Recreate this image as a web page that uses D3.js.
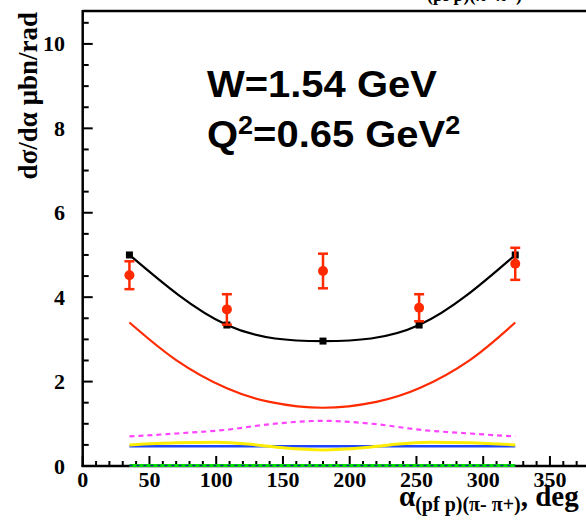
<!DOCTYPE html>
<html><head><meta charset="utf-8">
<script src="https://cdn.jsdelivr.net/npm/d3@7"></script>
<style>body{margin:0;background:#fff}svg{display:block}</style>
</head><body>
<script>
// ---- data ----
const xTicks = [0,50,100,150,200,250,300,350];
const yTicks = [0,2,4,6,8,10];
const dataAlpha = [35,108,180,252,324];
const dataValue = [4.52,3.71,4.62,3.75,4.79];
const dataError = [0.33,0.36,0.41,0.32,0.38];
const modelValue = [5.0,3.34,2.96,3.34,5.0];
const curveAlpha = [35,70,108,140,180,220,252,290,324];
const redValue = [3.40,2.51,1.84,1.52,1.38,1.52,1.84,2.51,3.40];
const magentaValue = [0.70,0.77,0.86,0.99,1.07,0.99,0.86,0.77,0.70];
const yellowAlpha = [35,70,100,130,150,180,210,230,260,290,324];
const yellowValue = [0.50,0.55,0.565,0.50,0.43,0.38,0.43,0.50,0.565,0.55,0.50];
const blueValue = [0.47,0.47,0.47,0.47,0.47,0.47,0.47,0.47,0.47];
const greenValue = [0.01,0.01,0.01,0.01,0.01,0.01,0.01,0.01,0.01];

const W = 586, H = 520;
const x0 = 82.7, pxPerDeg = 1.335;
const yBottom = 466, yTop = 11;
const x = d3.scaleLinear().domain([0,380]).range([x0, x0 + 380*pxPerDeg]);
const y = d3.scaleLinear().domain([0,10.78]).range([yBottom, yTop]);

const svg = d3.select("body").append("svg").attr("width",W).attr("height",H);
const serif = "'Liberation Serif','Times New Roman',serif";
const sans = "'Liberation Sans',Arial,Helvetica,sans-serif";

// frame
svg.append("line").attr("x1",x0).attr("x2",W).attr("y1",yTop).attr("y2",yTop).attr("stroke","#000").attr("stroke-width",2.5);
svg.append("line").attr("x1",x0).attr("x2",x0).attr("y1",yTop-1).attr("y2",yBottom+1).attr("stroke","#000").attr("stroke-width",2.5);
svg.append("line").attr("x1",x0-1).attr("x2",W).attr("y1",yBottom).attr("y2",yBottom).attr("stroke","#000").attr("stroke-width",2.5);

// ticks
const g = svg.append("g").attr("stroke","#000").attr("stroke-width",2);
d3.range(0,10.6,0.5).forEach(v=>{
  const major = Math.abs(v - Math.round(v/2)*2) < 1e-6;
  g.append("line").attr("x1",x0).attr("x2",x0 + (major?10:6)).attr("y1",y(v)).attr("y2",y(v));
});
d3.range(0,381,10).forEach(v=>{
  const major = v % 50 === 0;
  g.append("line").attr("x1",x(v)).attr("x2",x(v)).attr("y1",yBottom).attr("y2",yBottom-(major?10:5));
});

// tick labels
svg.append("g").selectAll("text").data(yTicks).join("text")
  .attr("x",65).attr("y",d=>y(d)+7.5).attr("text-anchor","end")
  .style("font-family",serif).style("font-weight","bold").style("font-size","22px").text(d=>d);
svg.append("g").selectAll("text").data(xTicks).join("text")
  .attr("x",d=>x(d)).attr("y",487).attr("text-anchor","middle")
  .style("font-family",serif).style("font-weight","bold").style("font-size","22px").text(d=>d);

// axis titles
svg.append("text").attr("transform","translate(37,12) rotate(-90)").attr("text-anchor","end")
  .style("font-family",serif).style("font-weight","bold").style("font-size","27px").text("dσ/dα μbn/rad");
const xt = svg.append("text").attr("x",399).attr("y",506)
  .style("font-family",serif).style("font-weight","bold").style("font-size","29px");
xt.append("tspan").text("α");
xt.append("tspan").attr("dy",5).style("font-size","20px").text("(pf p)(π- π+)");
xt.append("tspan").attr("dy",-5).text(", deg");

// cut-off title fragment at top
svg.append("text").attr("x",421).attr("y",1)
  .style("font-family",serif).style("font-weight","bold").style("font-size","18px").text("-(pf p)(π- π+)");

// annotation
const ann = svg.append("g").attr("transform","translate(207,0) scale(1.08,1)");
ann.append("text").attr("x",0).attr("y",97).style("font-family",sans).style("font-weight","bold").style("font-size","37px").text("W=1.54 GeV");
const q = ann.append("text").attr("x",0).attr("y",147).style("font-family",sans).style("font-weight","bold").style("font-size","37px");
q.append("tspan").text("Q");
q.append("tspan").attr("dy",-13).style("font-size","25px").text("2");
q.append("tspan").attr("dy",13).text("=0.65 GeV");
q.append("tspan").attr("dy",-13).style("font-size","25px").text("2");

// curves
const line = (xs, ys, curve) => d3.line().x((d,i)=>x(xs[i])).y(d=>y(d)).curve(curve)(ys);
svg.append("path").attr("d",line(curveAlpha,greenValue,d3.curveLinear)).attr("fill","none").attr("stroke","#00dd00").attr("stroke-width",3);
svg.append("path").attr("d",line(curveAlpha,greenValue,d3.curveLinear)).attr("fill","none").attr("stroke","#1a2a8a").attr("stroke-width",1.5).attr("stroke-dasharray","3,4");
svg.append("path").attr("d",line(curveAlpha,blueValue,d3.curveLinear)).attr("fill","none").attr("stroke","#1f45ff").attr("stroke-width",2.5);
svg.append("path").attr("d",line(yellowAlpha,yellowValue,d3.curveMonotoneX)).attr("fill","none").attr("stroke","#ffee00").attr("stroke-width",3);
svg.append("path").attr("d",line(curveAlpha,magentaValue,d3.curveMonotoneX)).attr("fill","none").attr("stroke","#ff44ff").attr("stroke-width",2.2).attr("stroke-dasharray","5,4");
svg.append("path").attr("d",line(curveAlpha,redValue,d3.curveNatural)).attr("fill","none").attr("stroke","#ff2a00").attr("stroke-width",2.2);
svg.append("path").attr("d",line(dataAlpha,modelValue,d3.curveNatural)).attr("fill","none").attr("stroke","#000").attr("stroke-width",2.2);

// model squares
svg.append("g").selectAll("rect").data(modelValue).join("rect")
  .attr("x",(d,i)=>x(dataAlpha[i])-3.5).attr("y",d=>y(d)-3.5).attr("width",7).attr("height",7).attr("fill","#000");

// data points
const dp = svg.append("g").attr("stroke","#ff2a00").attr("stroke-width",2.5);
dataValue.forEach((v,i)=>{
  const cx = x(dataAlpha[i]);
  dp.append("line").attr("x1",cx).attr("x2",cx).attr("y1",y(v+dataError[i])).attr("y2",y(v-dataError[i]));
  dp.append("line").attr("x1",cx-5).attr("x2",cx+5).attr("y1",y(v+dataError[i])).attr("y2",y(v+dataError[i]));
  dp.append("line").attr("x1",cx-5).attr("x2",cx+5).attr("y1",y(v-dataError[i])).attr("y2",y(v-dataError[i]));
  dp.append("circle").attr("cx",cx).attr("cy",y(v)).attr("r",5).attr("fill","#ff2a00").attr("stroke","none");
});
</script>
</body></html>
